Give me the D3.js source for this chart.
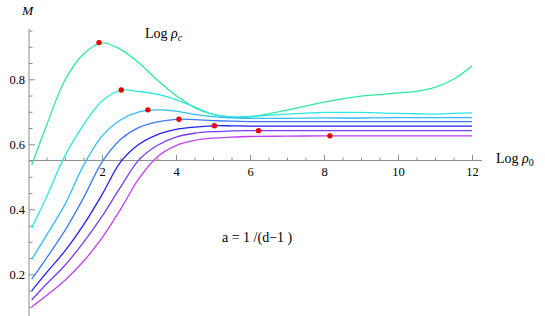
<!DOCTYPE html>
<html>
<head>
<meta charset="utf-8">
<script src="https://cdn.jsdelivr.net/npm/d3@7"></script>
<style>
  html, body { margin: 0; padding: 0; background: #fff; }
  svg { display: block; }
  svg text { font-family: "Liberation Serif", "Times New Roman", serif !important; fill: #000; }
</style>
</head>
<body>
<svg id="chart" width="545" height="316"></svg>
<script>
// ---- data ----
const logRho0 = [0.1, 0.5, 1, 1.5, 2, 2.5, 3, 3.5, 4, 4.5, 5, 5.5, 6, 7, 8, 9, 10, 10.5, 11, 11.5, 12];
const curve1 = [0.536, 0.658, 0.798, 0.878, 0.912, 0.892, 0.850, 0.797, 0.750, 0.713, 0.692, 0.684, 0.684, 0.705, 0.730, 0.748, 0.758, 0.763, 0.775, 0.800, 0.841];
const curve2 = [0.342, 0.438, 0.565, 0.660, 0.733, 0.766, 0.762, 0.754, 0.737, 0.715, 0.692, 0.684, 0.686, 0.693, 0.698, 0.698, 0.695, 0.694, 0.693, 0.695, 0.697];
const curve3 = [0.246, 0.320, 0.415, 0.535, 0.625, 0.675, 0.700, 0.706, 0.702, 0.692, 0.685, 0.681, 0.680, 0.680, 0.681, 0.681, 0.682, 0.682, 0.682, 0.682, 0.682];
const curve4 = [0.185, 0.250, 0.335, 0.435, 0.545, 0.615, 0.652, 0.669, 0.677, 0.676, 0.673, 0.671, 0.670, 0.670, 0.670, 0.670, 0.670, 0.670, 0.670, 0.670, 0.670];
const curve5 = [0.149, 0.205, 0.272, 0.352, 0.445, 0.545, 0.600, 0.630, 0.646, 0.653, 0.657, 0.657, 0.656, 0.656, 0.656, 0.656, 0.656, 0.656, 0.656, 0.656, 0.656];
const curve6 = [0.121, 0.170, 0.228, 0.298, 0.378, 0.468, 0.552, 0.597, 0.622, 0.634, 0.639, 0.641, 0.642, 0.642, 0.642, 0.642, 0.642, 0.642, 0.642, 0.642, 0.642];
const curve7 = [0.100, 0.135, 0.182, 0.240, 0.312, 0.400, 0.495, 0.562, 0.596, 0.612, 0.619, 0.622, 0.624, 0.625, 0.626, 0.626, 0.626, 0.626, 0.626, 0.626, 0.626];
const seriesColors = ["#2eea9c", "#2ee8e0", "#33bbff", "#3a7aff", "#2020ee", "#7a3cf0", "#c040f0"];
const peakX = [1.92, 2.52, 3.24, 4.08, 5.04, 6.23, 8.16];
const peakY = [0.913, 0.767, 0.706, 0.677, 0.657, 0.642, 0.626];
const xMajorTicks = [2, 4, 6, 8, 10, 12];
const yMajorTicks = [0.2, 0.4, 0.6, 0.8];

const series = [curve1, curve2, curve3, curve4, curve5, curve6, curve7];

// ---- scales ----
const x = d3.scaleLinear().domain([0, 12]).range([28, 472]);
const y = d3.scaleLinear().domain([0.2, 0.8]).range([274.3, 79.3]);
const axisY = y(0.55);
const axisX = 29;

const svg = d3.select("#chart");
const axisColor = "#8c8c8c";
const serif = "'Liberation Serif', 'Times New Roman', serif";

// ---- x axis ----
const xMinor = d3.range(0.5, 12.01, 0.5).filter(v => Math.abs(v / 2 - Math.round(v / 2)) > 1e-6);
const gxMinor = svg.append("g").attr("transform", `translate(0,${axisY})`)
  .call(d3.axisBottom(x).tickValues(xMinor).tickSize(-3).tickSizeOuter(0).tickFormat(""));
const gx = svg.append("g").attr("transform", `translate(0,${axisY})`)
  .call(d3.axisBottom(x).tickValues(xMajorTicks).tickSize(-5.5).tickSizeOuter(0).tickPadding(7).tickFormat(d3.format("d")));

// ---- y axis ----
const yMinor = d3.range(0.1, 0.951, 0.05).filter(v => Math.abs(v * 5 - Math.round(v * 5)) > 1e-6);
const gyMinor = svg.append("g").attr("transform", `translate(${axisX},0)`)
  .call(d3.axisLeft(y).tickValues(yMinor).tickSize(-3.5).tickSizeOuter(0).tickFormat(""));
const gy = svg.append("g").attr("transform", `translate(${axisX},0)`)
  .call(d3.axisLeft(y).tickValues(yMajorTicks).tickSize(-6).tickSizeOuter(0).tickPadding(4).tickFormat(d3.format(".1f")));

[gx, gxMinor, gy, gyMinor].forEach(g => {
  g.attr("font-family", serif);
  g.select(".domain").remove();
  g.selectAll(".tick line").attr("stroke", axisColor).attr("stroke-width", 1);
  g.selectAll(".tick text").style("font-family", serif).attr("font-size", 12.5).attr("fill", "#000");
});

// axis lines
svg.append("line").attr("x1", axisX).attr("x2", 482).attr("y1", axisY).attr("y2", axisY)
  .attr("stroke", axisColor).attr("stroke-width", 1);
svg.append("line").attr("x1", axisX).attr("x2", axisX).attr("y1", 29).attr("y2", 316)
  .attr("stroke", axisColor).attr("stroke-width", 1);

// ---- curves ----
const line = d3.line()
  .x((d, i) => x(logRho0[i]))
  .y(d => y(d))
  .curve(d3.curveCatmullRom.alpha(0.5));

svg.append("g").selectAll("path").data(series).join("path")
  .attr("d", d => line(d))
  .attr("fill", "none")
  .attr("stroke", (d, i) => seriesColors[i])
  .attr("stroke-width", 1.3);

// ---- peak dots ----
svg.append("g").selectAll("circle").data(peakX).join("circle")
  .attr("cx", d => x(d))
  .attr("cy", (d, i) => y(peakY[i]))
  .attr("r", 2.7)
  .attr("fill", "#e60000");

// ---- labels ----
svg.append("text").attr("x", 22).attr("y", 14.5).style("font-family", serif)
  .attr("font-size", 13.5).attr("font-style", "italic").text("M");

const lc = svg.append("text").attr("x", 145).attr("y", 37.5).attr("font-size", 14).style("font-family", serif);
lc.append("tspan").text("Log  ");
lc.append("tspan").attr("font-style", "italic").text("ρ");
lc.append("tspan").attr("font-style", "italic").attr("font-size", 10).attr("dy", 3).text("c");

const l0 = svg.append("text").attr("x", 496).attr("y", 162.5).attr("font-size", 14).style("font-family", serif);
l0.append("tspan").text("Log  ");
l0.append("tspan").attr("font-style", "italic").text("ρ");
l0.append("tspan").attr("font-size", 10).attr("dy", 3).text("0");

svg.append("text").attr("x", 222).attr("y", 242).attr("font-size", 14).style("font-family", serif)
  .text("a = 1 /(d\u22121 )");
</script>
</body>
</html>
